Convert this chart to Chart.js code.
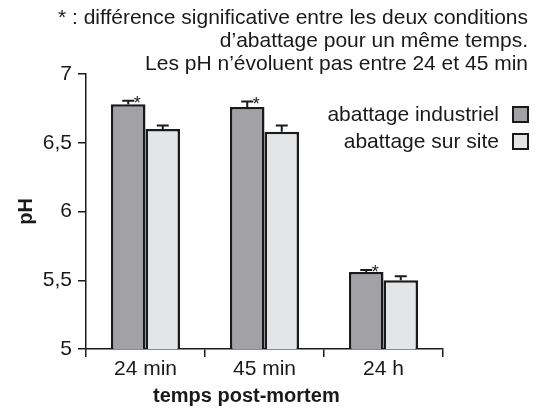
<!DOCTYPE html>
<html>
<head>
<meta charset="utf-8">
<script src="https://cdn.jsdelivr.net/npm/chart.js@4"></script>
<style>
  html, body { margin: 0; padding: 0; background: #fff; }
  #wrap { width: 547px; height: 410px; }
</style>
</head>
<body>
<div id="wrap"><canvas id="phChart" width="547" height="410"></canvas></div>
<script>
// Data
const temps = ['24 min', '45 min', '24 h'];
const seriesNames = ['abattage industriel', 'abattage sur site'];
const phIndustriel = [6.78, 6.76, 5.56];
const phSite = [6.60, 6.58, 5.50];
const errIndustriel = [0.025, 0.04, 0.015];
const errSite = [0.025, 0.045, 0.03];
const significatif = [true, true, true];
const noteLines = [
    '* : différence significative entre les deux conditions',
    'd\u2019abattage pour un même temps.',
    'Les pH n\u2019évoluent pas entre 24 et 45 min'
];
const xTitle = 'temps post-mortem';

const FONT = 'Liberation Sans, Arial, sans-serif';
const INK = '#1a1a1a';

// Error bars + significance stars
const errorBarPlugin = {
    id: 'errorBars',
    afterDatasetsDraw(chart) {
        const ctx = chart.ctx;
        const yScale = chart.scales.y;
        ctx.save();
        ctx.strokeStyle = INK;
        ctx.lineWidth = 2;
        chart.data.datasets.forEach((ds, di) => {
            const meta = chart.getDatasetMeta(di);
            meta.data.forEach((bar, i) => {
                const yTop = yScale.getPixelForValue(ds.data[i] + ds.errors[i]);
                ctx.beginPath();
                ctx.moveTo(bar.x, bar.y);
                ctx.lineTo(bar.x, yTop);
                ctx.moveTo(bar.x - 6, yTop);
                ctx.lineTo(bar.x + 6, yTop);
                ctx.stroke();
                if (di === 0 && significatif[i]) {
                    ctx.fillStyle = INK;
                    ctx.font = '18px ' + FONT;
                    ctx.textAlign = 'center';
                    ctx.textBaseline = 'alphabetic';
                    ctx.fillText('*', bar.x + 9, yTop + 8);
                }
            });
        });
        ctx.restore();
    }
};

// Note text, x title and legend on the right
const annotationPlugin = {
    id: 'notes',
    afterDraw(chart) {
        const ctx = chart.ctx;
        ctx.save();
        ctx.fillStyle = INK;
        ctx.font = '21px ' + FONT;
        ctx.textAlign = 'right';
        ctx.textBaseline = 'middle';
        noteLines.forEach((line, i) => {
            ctx.fillText(line, 528, 18 + i * 23);
        });
        chart.data.datasets.forEach((ds, i) => {
            const y = 115 + i * 27;
            ctx.fillStyle = INK;
            ctx.fillText(seriesNames[i], 499, y);
            ctx.fillStyle = ds.backgroundColor;
            ctx.fillRect(513, y - 8, 15, 15);
            ctx.strokeStyle = INK;
            ctx.lineWidth = 2;
            ctx.strokeRect(513, y - 8, 15, 15);
        });
        ctx.fillStyle = INK;
        ctx.font = 'bold 20px ' + FONT;
        ctx.textAlign = 'left';
        ctx.fillText(xTitle, 153, 396);
        ctx.restore();
    }
};

new Chart(document.getElementById('phChart'), {
    type: 'bar',
    data: {
        labels: temps,
        datasets: [{
            label: seriesNames[0],
            data: phIndustriel,
            errors: errIndustriel,
            backgroundColor: '#a2a1a6',
            borderColor: INK,
            borderWidth: 2.5,
            borderSkipped: false,
            categoryPercentage: 0.58,
            barPercentage: 1.0
        }, {
            label: seriesNames[1],
            data: phSite,
            errors: errSite,
            backgroundColor: '#e4e5e7',
            borderColor: INK,
            borderWidth: 2.5,
            borderSkipped: false,
            categoryPercentage: 0.58,
            barPercentage: 1.0
        }]
    },
    options: {
        responsive: false,
        animation: false,
        layout: {
            padding: { top: 74, right: 104, left: 0, bottom: 0 }
        },
        scales: {
            x: {
                afterFit: function(scale) { scale.height = 61; },
                grid: {
                    offset: true,
                    drawOnChartArea: false,
                    tickLength: 8,
                    color: INK,
                    lineWidth: 1.5
                },
                border: { color: INK, width: 1.5 },
                ticks: {
                    color: INK,
                    padding: 0,
                    font: { family: FONT, size: 21 }
                }
            },
            y: {
                min: 5,
                max: 7,
                afterFit: function(scale) { scale.width = 86; },
                grid: {
                    drawOnChartArea: false,
                    tickLength: 8,
                    color: INK,
                    lineWidth: 1.5
                },
                border: { color: INK, width: 1.5 },
                ticks: {
                    stepSize: 0.5,
                    color: INK,
                    padding: 6,
                    font: { family: FONT, size: 21 },
                    callback: function(value) {
                        return value.toString().replace('.', ',');
                    }
                },
                title: {
                    display: true,
                    text: 'pH',
                    color: INK,
                    padding: { top: 14, bottom: 0 },
                    font: { family: FONT, size: 20, weight: 'bold' }
                }
            }
        },
        plugins: {
            legend: { display: false },
            tooltip: { enabled: false }
        }
    },
    plugins: [errorBarPlugin, annotationPlugin]
});
</script>
</body>
</html>
